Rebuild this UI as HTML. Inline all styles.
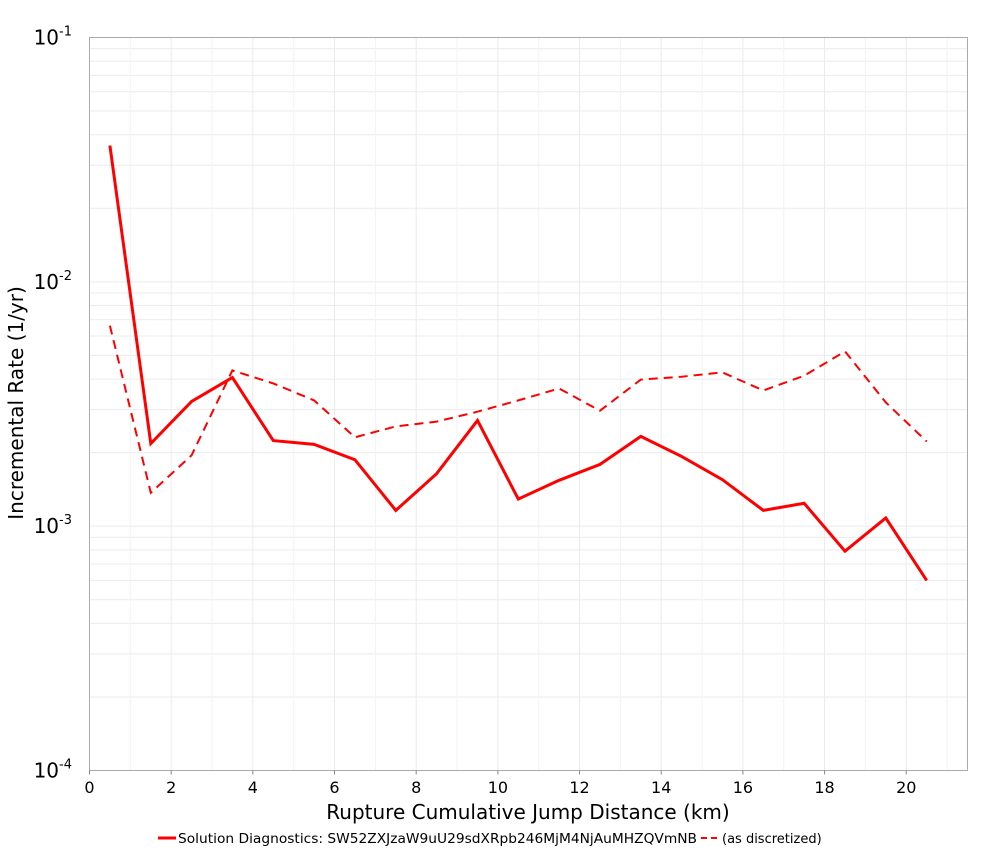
<!DOCTYPE html>
<html><head><meta charset="utf-8"><style>
body{margin:0;background:#fff;font-family:"Liberation Sans","DejaVu Sans",sans-serif}
</style></head><body>
<svg id="chart" width="1000" height="850" xmlns="http://www.w3.org/2000/svg" style="font-family:'DejaVu Sans','Liberation Sans',sans-serif">
<g id="grid"></g>
<rect x="89.5" y="37.5" width="878" height="733" fill="none" stroke="#aaa"/>
<g id="ticks"></g>
<g id="series"></g>
<text x="528" y="819" text-anchor="middle" font-size="20">Rupture Cumulative Jump Distance (km)</text>
<text transform="translate(23,403) rotate(-90)" text-anchor="middle" font-size="20">Incremental Rate (1/yr)</text>
<g>
<line x1="158" y1="838" x2="176" y2="838" stroke="red" stroke-width="3"/>
<text x="178" y="843" font-size="13" textLength="519" lengthAdjust="spacingAndGlyphs">Solution Diagnostics: SW52ZXJzaW9uU29sdXRpb246MjM4NjAuMHZQVmNB</text>
<line x1="701" y1="838" x2="719" y2="838" stroke="red" stroke-width="2" stroke-dasharray="6,4"/>
<text x="722" y="843" font-size="13">(as discretized)</text>
</g>
</svg>
<script>
const xValues=[0.5,1.5,2.5,3.5,4.5,5.5,6.5,7.5,8.5,9.5,10.5,11.5,12.5,13.5,14.5,15.5,16.5,17.5,18.5,19.5,20.5];
const solidRates=[0.0361,0.00218,0.00324,0.00406,0.00224,0.00216,0.00187,0.00116,0.00164,0.00271,0.00129,0.00154,0.00179,0.00233,0.00193,0.00155,0.00116,0.00124,0.00079,0.00108,0.00060];
const dashedRates=[0.00662,0.00137,0.00195,0.00434,0.00384,0.00327,0.00231,0.00256,0.00268,0.00294,0.00327,0.00366,0.00297,0.00398,0.00409,0.00426,0.00359,0.00413,0.00519,0.00321,0.00222];
const xTicks=[0,2,4,6,8,10,12,14,16,18,20];
const yDecades=[-4,-3,-2,-1];
const NS="http://www.w3.org/2000/svg";
const X0=89.5,X1=967.5,XMAX=21.5,Y0=770.5,Y1=37.5;
const xs=v=>X0+v/XMAX*(X1-X0);
const ys=v=>Y0-(Math.log10(v)+4)/3*(Y0-Y1);
function mk(tag,attrs,parent){const e=document.createElementNS(NS,tag);for(const k in attrs)e.setAttribute(k,attrs[k]);parent.appendChild(e);return e;}
const grid=document.getElementById('grid'),ticks=document.getElementById('ticks'),series=document.getElementById('series');
for(let d=-4;d<-1;d++)for(let m=1;m<10;m++){const y=ys(m*Math.pow(10,d));
 const l=mk('line',{x1:X0,x2:X1,y1:y,y2:y,stroke:'#ebebeb'},grid);
 }
for(let v=1;v<=21;v+=2){const x=xs(v);const l=mk('line',{x1:x,x2:x,y1:Y1,y2:Y0,stroke:'#f3f3f3'},grid);
 }
xTicks.forEach(v=>{const x=xs(v);
 const g=mk('line',{x1:x,x2:x,y1:Y1,y2:Y0,stroke:'#ebebeb'},grid);
 const t=mk('line',{x1:x,x2:x,y1:Y0,y2:Y0+4,stroke:'#888'},ticks);
 const tx=mk('text',{x:x,y:793,'text-anchor':'middle','font-size':16},ticks);tx.textContent=v;
 });
yDecades.forEach(d=>{const y=ys(Math.pow(10,d));
 const tx=mk('text',{x:72,y:y+7,'text-anchor':'end','font-size':20},ticks);
 
 tx.textContent='10';const s=mk('tspan',{dy:-9,'font-size':13},tx);s.textContent=String(d);});
function path(vals){return vals.map((v,i)=>(i?'L':'M')+xs(xValues[i]).toFixed(1)+','+ys(v).toFixed(1)).join('');}
const p1=mk('path',{d:path(solidRates),fill:'none',stroke:'red','stroke-width':3},series);

const p2=mk('path',{d:path(dashedRates),fill:'none',stroke:'red','stroke-width':2,'stroke-dasharray':'9,6'},series);

</script>
</body></html>
